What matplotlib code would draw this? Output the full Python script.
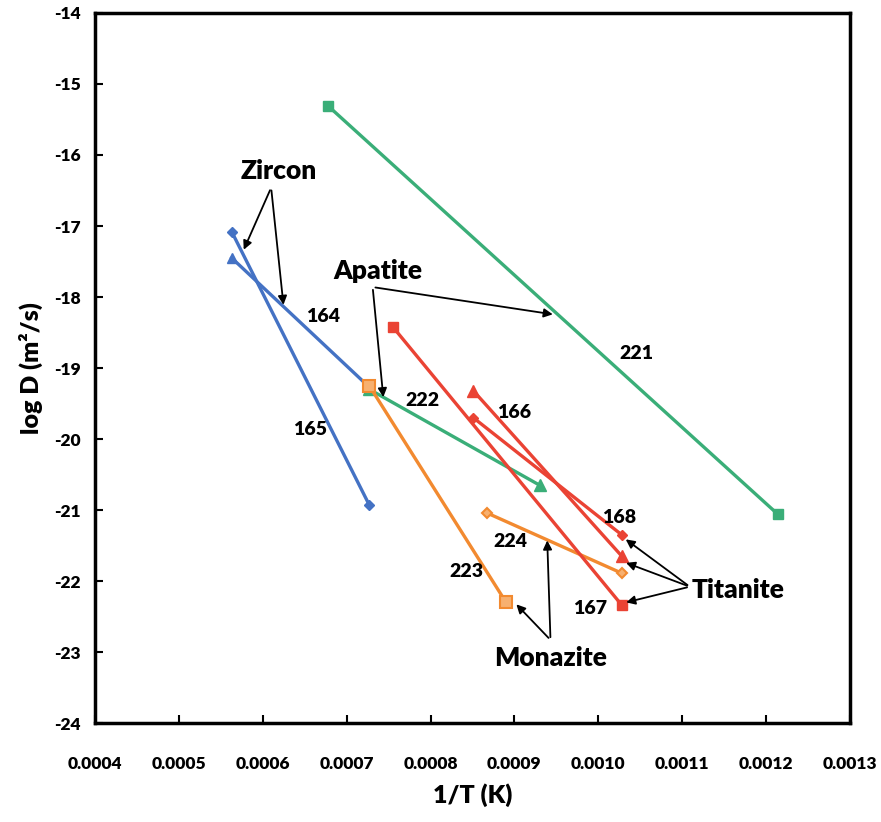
import matplotlib
matplotlib.use("Agg")
import matplotlib.pyplot as plt

plt.rcParams['font.family'] = ['Lato', 'DejaVu Sans']
plt.rcParams['font.weight'] = 'heavy'

# series: (x start, x end), (logD start, logD end)
zircon_164_x = [0.000563, 0.000727]
zircon_164_y = [-17.45, -19.27]
zircon_165_x = [0.000563, 0.000727]
zircon_165_y = [-17.08, -20.93]
apatite_221_x = [0.000678, 0.001214]
apatite_221_y = [-15.31, -21.06]
apatite_222_x = [0.000727, 0.000930]
apatite_222_y = [-19.30, -20.65]
monazite_223_x = [0.000727, 0.000890]
monazite_223_y = [-19.25, -22.30]
monazite_224_x = [0.000867, 0.001028]
monazite_224_y = [-21.04, -21.89]
titanite_166_x = [0.000851, 0.001028]
titanite_166_y = [-19.32, -21.65]
titanite_167_x = [0.000755, 0.001028]
titanite_167_y = [-18.42, -22.34]
titanite_168_x = [0.000851, 0.001028]
titanite_168_y = [-19.70, -21.35]

xticks = [0.0004, 0.0005, 0.0006, 0.0007, 0.0008, 0.0009, 0.0010, 0.0011, 0.0012, 0.0013]
yticks = [-24, -23, -22, -21, -20, -19, -18, -17, -16, -15, -14]

blue = '#4472C4'
green = '#3AAE78'
orange = '#F28A30'
red = '#EA4334'

fig = plt.figure(figsize=(8.81, 8.22), dpi=100)
ax = fig.add_axes([0.1078, 0.1204, 0.857, 0.8638])

lw = 2.4
ax.plot(zircon_165_x, zircon_165_y, color=blue, lw=lw, marker='D', ms=5.5)
ax.plot(zircon_164_x, zircon_164_y, color=blue, lw=lw, marker='^', ms=7.5)
ax.plot(apatite_221_x, apatite_221_y, color=green, lw=lw, marker='s', ms=7.5)
ax.plot(apatite_222_x, apatite_222_y, color=green, lw=lw, marker='^', ms=8)
ax.plot(monazite_224_x, monazite_224_y, color=orange, lw=lw, marker='D', ms=5.5,
        mfc='#F7B070', mec=orange, mew=1.5)
ax.plot(monazite_223_x, monazite_223_y, color=orange, lw=lw, marker='s', ms=8,
        mfc='#F7B070', mec=orange, mew=1.5)
ax.plot(titanite_167_x, titanite_167_y, color=red, lw=lw, marker='s', ms=7.5)
ax.plot(titanite_168_x, titanite_168_y, color=red, lw=lw, marker='D', ms=5.5)
ax.plot(titanite_166_x, titanite_166_y, color=red, lw=lw, marker='^', ms=8)

ax.set_xlim(0.0004, 0.0013)
ax.set_ylim(-24, -14)
ax.set_xticks(xticks)
ax.set_xticklabels(['%.4f' % v for v in xticks])
ax.set_yticks(yticks)
ax.set_yticklabels(['%d' % v for v in yticks])
ax.tick_params(axis='x', direction='in', length=6, width=1.5, pad=24, labelsize=12.5)
ax.tick_params(axis='y', direction='in', length=6, width=1.5, pad=10, labelsize=12.5)
for s in ax.spines.values():
    s.set_linewidth(2.5)

ax.set_xlabel('1/T (K)', fontsize=18, fontweight='heavy', labelpad=8)
ax.set_ylabel('log D (m²/s)', fontsize=18, fontweight='heavy', labelpad=8)

# series number labels
nums = [('164', 0.000672, -18.28), ('165', 0.000656, -19.87), ('221', 0.001045, -18.80),
        ('222', 0.000790, -19.46), ('166', 0.000900, -19.62), ('168', 0.001025, -21.11),
        ('224', 0.000895, -21.45), ('223', 0.000843, -21.87), ('167', 0.000990, -22.38)]
for t, x, y in nums:
    ax.text(x, y, t, fontsize=14, fontweight='heavy', ha='center', va='center')

arr = dict(arrowstyle='-|>', color='black', lw=1.3, mutation_scale=13)

# group labels with arrows (positions in data units)
ax.text(0.000619, -16.22, 'Zircon', fontsize=19, fontweight='heavy', ha='center', va='center')
for tx, ty in [(0.000576, -17.37), (0.000625, -18.15)]:
    ax.annotate('', xy=(tx, ty), xytext=(0.000610, -16.46), arrowprops=arr)

ax.text(0.000737, -17.64, 'Apatite', fontsize=19, fontweight='heavy', ha='center', va='center')
for tx, ty in [(0.000949, -18.25), (0.000744, -19.45)]:
    ax.annotate('', xy=(tx, ty), xytext=(0.000731, -17.86), arrowprops=arr)

ax.text(0.000943, -23.08, 'Monazite', fontsize=19, fontweight='heavy', ha='center', va='center')
for tx, ty in [(0.000900, -22.30), (0.000939, -21.39)]:
    ax.annotate('', xy=(tx, ty), xytext=(0.000943, -22.83), arrowprops=arr)

ax.text(0.001166, -22.13, 'Titanite', fontsize=19, fontweight='heavy', ha='center', va='center')
for tx, ty in [(0.001030, -21.39), (0.001030, -21.73), (0.001030, -22.31)]:
    ax.annotate('', xy=(tx, ty), xytext=(0.001109, -22.08), arrowprops=arr)

fig.savefig('out.png', dpi=100)
